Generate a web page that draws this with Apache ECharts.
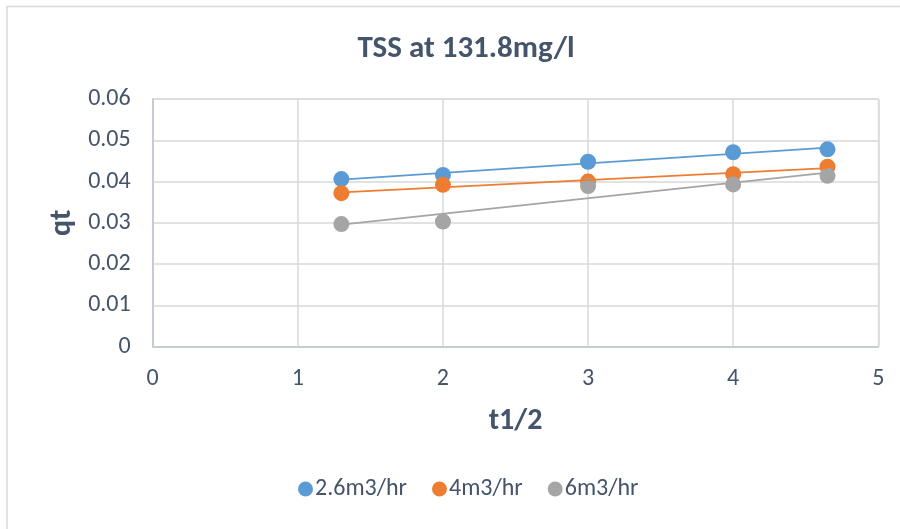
<!DOCTYPE html>
<html>
<head>
<meta charset="utf-8">
<script src="https://cdn.jsdelivr.net/npm/echarts@6/dist/echarts.min.js"></script>
<style>
  html, body { margin: 0; padding: 0; background: #fff; }
  #chart { width: 900px; height: 529px; }
</style>
</head>
<body>
<div id="chart"></div>
<script>
// Square root of time for each sampling point
const tHalf = [1.3, 2, 3, 4, 4.65];

// Adsorbed amount qt per flow rate
const qt26 = [0.0406, 0.0416, 0.0448, 0.0471, 0.0478];
const qt4  = [0.0372, 0.0392, 0.0400, 0.0418, 0.0436];
const qt6  = [0.0297, 0.0303, 0.0389, 0.0393, 0.0414];

const seriesNames = ['2.6m3/hr', '4m3/hr', '6m3/hr'];
const seriesColors = ['#5B9BD5', '#ED7D31', '#A5A5A5'];
const seriesValues = [qt26, qt4, qt6];

const textColor = '#44546A';
const fontFamily = 'Carlito, Lato, "Open Sans", sans-serif';

// Least-squares linear trendline over the sampled range
function linearTrend(xs, ys) {
  const n = xs.length;
  const mx = xs.reduce((a, b) => a + b, 0) / n;
  const my = ys.reduce((a, b) => a + b, 0) / n;
  let sxx = 0, sxy = 0;
  for (let i = 0; i < n; i++) {
    sxx += (xs[i] - mx) * (xs[i] - mx);
    sxy += (xs[i] - mx) * (ys[i] - my);
  }
  const slope = sxy / sxx;
  const icpt = my - slope * mx;
  const x0 = Math.min(...xs), x1 = Math.max(...xs);
  return [[x0, icpt + slope * x0], [x1, icpt + slope * x1]];
}

const series = [];
seriesValues.forEach((vals, i) => {
  series.push({
    name: seriesNames[i],
    type: 'scatter',
    data: tHalf.map((x, j) => [x, vals[j]]),
    symbol: 'circle',
    symbolSize: 16,
    itemStyle: { color: seriesColors[i], opacity: 1 },
    z: 2
  });
});
seriesValues.forEach((vals, i) => {
  series.push({
    name: seriesNames[i] + ' trend',
    type: 'line',
    data: linearTrend(tHalf, vals),
    showSymbol: false,
    symbol: 'none',
    lineStyle: { color: seriesColors[i], width: 1.8 },
    silent: true,
    z: 3
  });
});

const chart = echarts.init(document.getElementById('chart'), null, { renderer: 'canvas' });
chart.setOption({
  animation: false,
  backgroundColor: '#fff',
  title: {
    text: 'TSS at 131.8mg/l',
    left: 461,
    top: 29,
    textAlign: 'center',
    textStyle: { color: textColor, fontFamily: fontFamily, fontWeight: 'bold', fontSize: 31 }
  },
  legend: {
    data: seriesNames,
    left: 293,
    bottom: 23,
    icon: 'circle',
    itemWidth: 15,
    itemHeight: 15,
    itemGap: 25,
    textStyle: { color: textColor, fontFamily: fontFamily, fontSize: 24, padding: [0, 0, 0, -3] }
  },
  grid: {
    left: 152.7,
    right: 21.7,
    top: 99,
    bottom: 182.3,
    show: true,
    borderColor: '#D9D9D9',
    borderWidth: 1
  },
  xAxis: {
    type: 'value',
    min: 0,
    max: 5,
    interval: 1,
    name: 't1/2',
    nameLocation: 'middle',
    nameGap: 60,
    nameTextStyle: { color: textColor, fontFamily: fontFamily, fontWeight: 'bold', fontSize: 30 },
    axisLine: { show: true, lineStyle: { color: '#BFC6D0', width: 1.5 } },
    axisTick: { show: false },
    axisLabel: { color: textColor, fontFamily: fontFamily, fontSize: 24, margin: 20 },
    splitLine: { show: true, lineStyle: { color: '#D9D9D9', width: 1.5 } }
  },
  yAxis: {
    type: 'value',
    min: 0,
    max: 0.06,
    interval: 0.01,
    name: 'qt',
    nameLocation: 'middle',
    nameGap: 62,
    nameRotate: 90,
    nameTextStyle: { color: textColor, fontFamily: fontFamily, fontWeight: 'bold', fontSize: 30 },
    axisLine: { show: true, lineStyle: { color: '#BFC6D0', width: 1.5 } },
    axisTick: { show: false },
    axisLabel: {
      color: textColor, fontFamily: fontFamily, fontSize: 24, margin: 22,
      formatter: v => (Math.round(v * 100) / 100).toString()
    },
    splitLine: { show: true, lineStyle: { color: '#D9D9D9', width: 1.5 } }
  },
  graphic: [{
    type: 'polyline',
    shape: { points: [[7, 529], [7, 6.5], [900, 6.5]] },
    style: { stroke: '#D9D9D9', lineWidth: 1.5, fill: null },
    silent: true
  }],
  series: series
});
</script>
</body>
</html>
